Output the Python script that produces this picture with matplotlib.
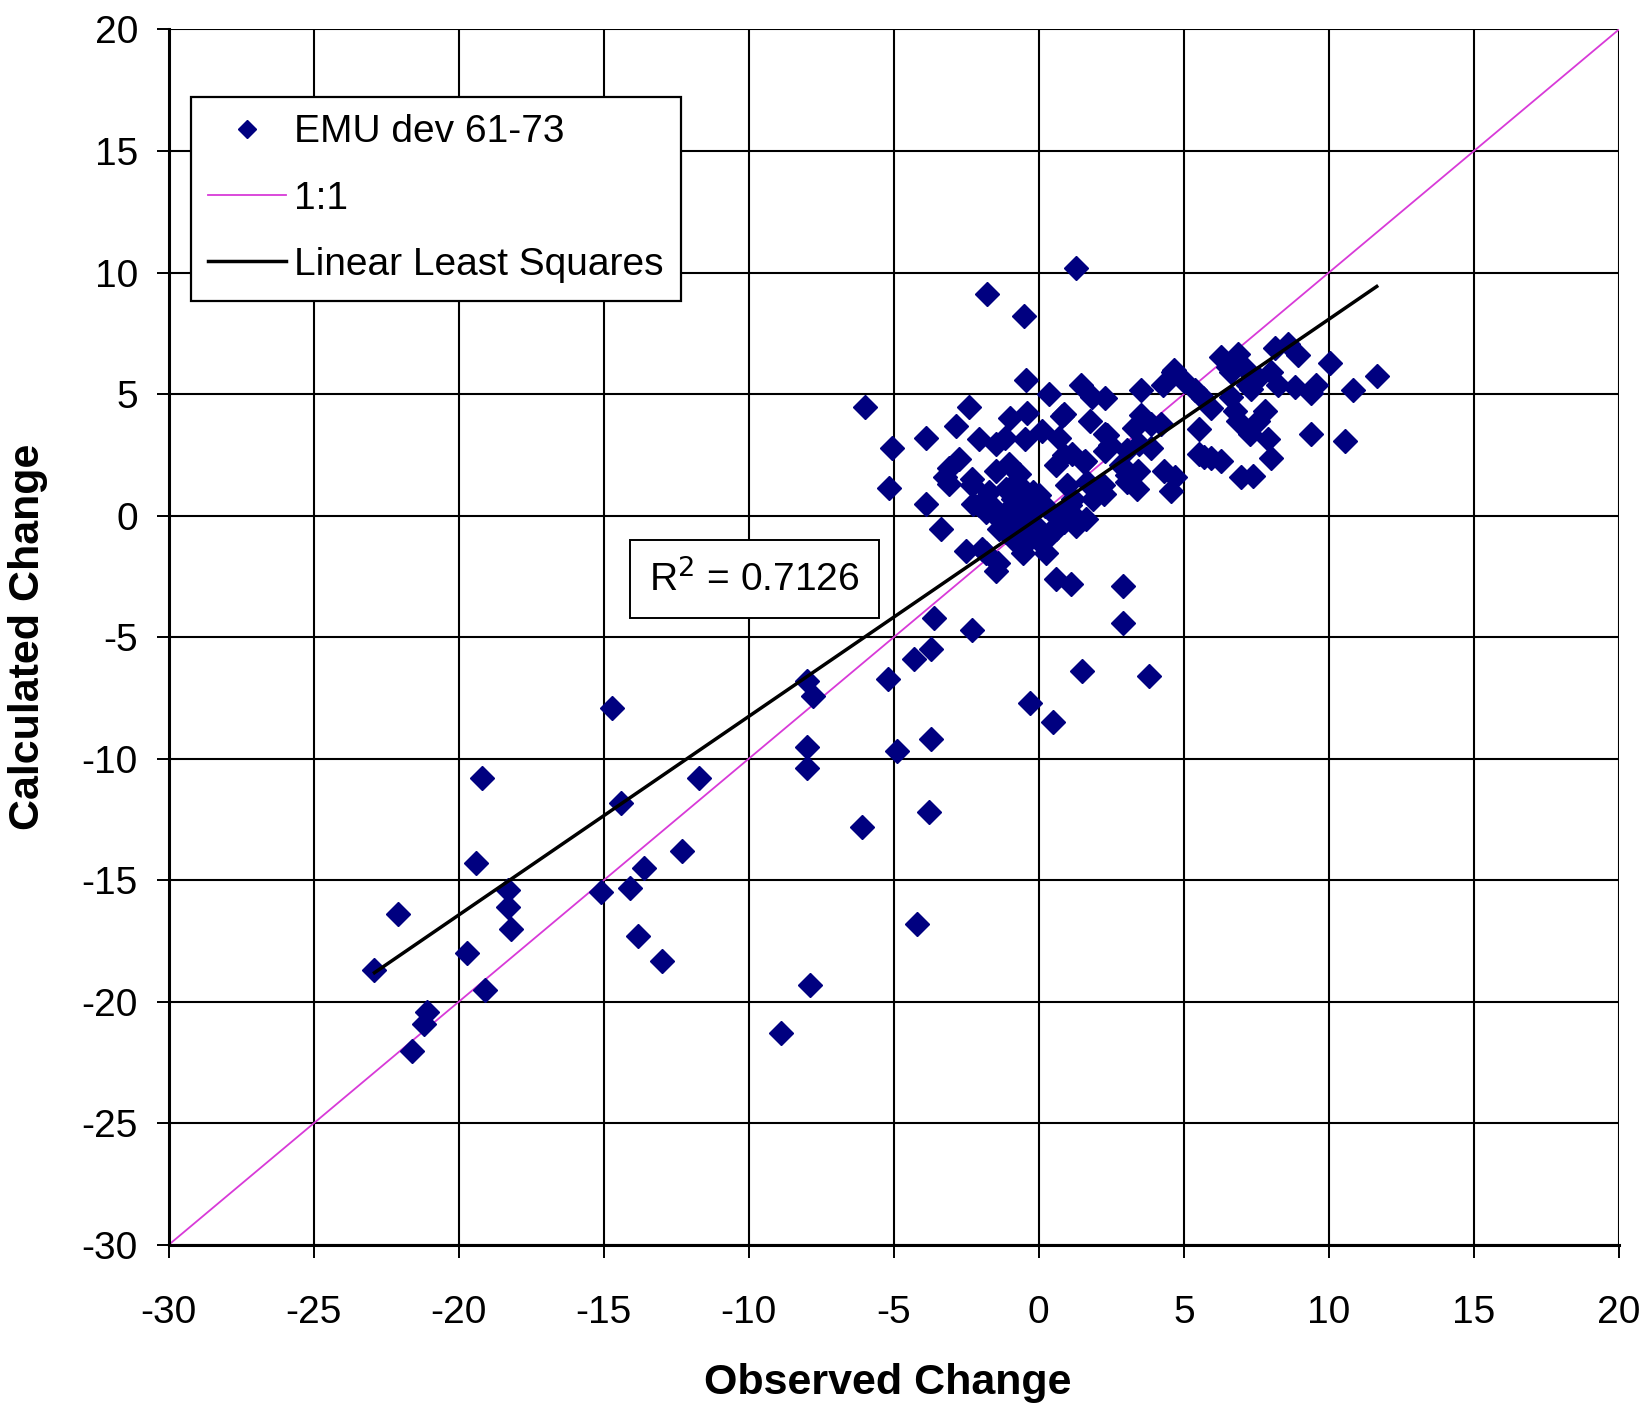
import numpy as np
import matplotlib
matplotlib.use("Agg")
import matplotlib.pyplot as plt

plt.rcParams['font.family'] = ['Liberation Sans', 'DejaVu Sans']
plt.rcParams['axes.unicode_minus'] = False

# observed vs calculated change, EMU deviation 61-73
observed = [
    # low / scattered points
    -22.9, -22.1, -21.6, -21.1, -21.2, -19.7, -19.1, -19.2, -19.4, -18.3,
    -18.3, -18.2, -15.1, -14.7, -14.4, -14.1, -13.8, -13.6, -13.0, -12.3,
    -11.7, -8.9, -8.0, -7.8, -8.0, -8.0, -7.9, -6.1, -6.0, -5.2,
    -4.9, -4.3, -4.2, -3.8, -3.7, -3.7, -3.6, -2.3, -0.3, 0.5,
    1.5, 2.9, 2.9, 3.8, 0.6, 1.1,
    # high outliers
    -1.8, -0.5, 1.3, -0.45,
    # core cluster
    -2.41, -5.06, -3.89, -2.87, -0.98, -0.4, 0.34, 0.8, 1.44, 1.84,
    2.3, 1.78, -2.07, -1.49, -1.15, -0.46, 0.11, 0.69, 1.15, 1.61,
    2.3, 2.3, -5.15, -3.1, -2.76, -3.22, -2.3, -1.49, -1.03, -0.69,
    0.6, -1.7, -1.13, -0.67, -0.21, -2.28, -1.82, -1.24, -0.78, -0.32,
    -1.36, -0.9, -0.44, 0.02, -2.51, -1.82, -0.55, 0.25, 0.48, 0.6,
    -1.41, -3.9, -3.38, -1.94, -1.48, -3.09, -2.29, -2.06, -1.13, -0.9,
    -0.67, -0.21, 0.02, 0.6, 0.95, 1.29, 1.64, 1.87, 2.22, 3.03,
    0.02, -0.44, -0.9, 1.18, 0.86, 2.36, 2.47, 3.05, 1.55, 2.82,
    3.05, 3.39, 0.86, 0.98, 1.67, 2.24, 1.09, 1.32, 0.86,
    -1.6, -1.0, -0.5, -0.1, 0.3, -1.3, -0.6, 0.2,
    # right cluster
    3.53, 4.27, 4.62, 5.02, 5.37, 5.66, 6.29, 6.87, 6.64, 7.1,
    7.21, 7.56, 8.13, 8.59, 8.94, 8.02, 8.25, 8.82, 9.57, 9.4,
    10.03, 10.84, 11.65, 3.53, 3.29, 3.87, 3.47, 3.87, 5.94, 6.75,
    6.87, 7.79, 7.56, 5.54, 7.27, 7.9, 9.4, 10.55, 5.54, 5.94,
    6.29, 8.02, 6.98, 7.38, 3.41, 4.33, 4.68, 4.65, 6.51, 6.63,
    7.33, 5.7, 4.55, 4.2,
]
calculated = [
    -18.7, -16.4, -22.0, -20.4, -20.9, -18.0, -19.5, -10.8, -14.3, -15.4,
    -16.1, -17.0, -15.5, -7.9, -11.8, -15.3, -17.3, -14.5, -18.3, -13.8,
    -10.8, -21.3, -6.8, -7.4, -9.5, -10.4, -19.3, -12.8, 4.45, -6.7,
    -9.7, -5.9, -16.8, -12.2, -9.2, -5.5, -4.2, -4.7, -7.7, -8.5,
    -6.4, -2.9, -4.4, -6.6, -2.6, -2.8,
    9.1, 8.2, 10.2, 5.6,
    4.46, 2.77, 3.18, 3.68, 4.02, 4.23, 5.0, 4.09, 5.38, 4.9,
    4.86, 3.89, 3.14, 2.93, 3.2, 3.14, 3.48, 3.2, 2.53, 2.26,
    3.34, 2.66, 1.15, 1.98, 2.32, 1.58, 1.51, 1.85, 2.12, 1.71,
    2.08, 0.97, 1.11, 0.69, 0.97, 0.49, 0.14, 0.0, -0.28, 0.0,
    -0.56, -0.97, -1.11, -0.83, -1.46, -1.53, -1.53, -1.53, -0.56, 0.0,
    -1.94, 0.49, -0.56, -1.39, -2.29, 1.32, 1.25, 0.42, -0.69, 0.69,
    -0.28, 0.14, -0.56, -0.56, 0.14, -0.42, -0.14, 0.69, 1.25, 1.39,
    0.83, 0.97, 1.25, 0.69, 4.17, 3.33, 2.92, 2.71, 2.22, 2.08,
    1.67, 1.11, 2.5, 1.25, 1.39, 0.9, 0.42, -0.14, -0.28,
    0.4, 0.3, -0.4, -0.9, -0.9, -0.2, 0.5, 0.4,
    5.18, 5.38, 5.92, 5.52, 5.18, 4.84, 6.54, 6.67, 5.92, 6.06,
    5.38, 5.65, 6.88, 7.08, 6.6, 5.92, 5.38, 5.31, 5.38, 5.04,
    6.26, 5.18, 5.76, 4.16, 3.61, 3.75, 2.93, 2.8, 4.43, 4.29,
    3.89, 4.29, 3.89, 3.55, 3.34, 3.14, 3.34, 3.07, 2.53, 2.39,
    2.26, 2.39, 1.58, 1.64, 1.85, 1.85, 1.58, 5.99, 6.12, 4.89,
    5.23, 2.42, 1.0, 3.75,
]

# trendline coefficients and fit statistic
fit_slope = 0.817
fit_intercept = -0.09
r_squared = 0.7126

x_ticks = [-30, -25, -20, -15, -10, -5, 0, 5, 10, 15, 20]
y_ticks = [-30, -25, -20, -15, -10, -5, 0, 5, 10, 15, 20]

fig = plt.figure(figsize=(16.52, 14.09), dpi=100)
ax = fig.add_axes([0.102, 0.1164, 0.878, 0.8627])

ax.set_xlim(-30, 20)
ax.set_ylim(-30, 20)
ax.set_xticks(x_ticks)
ax.set_yticks(y_ticks)
ax.grid(True, color='black', linewidth=1.5)
ax.set_axisbelow(True)
for side in ['top', 'right']:
    ax.spines[side].set_visible(False)
for side in ['left', 'bottom']:
    ax.spines[side].set_linewidth(2.2)
ax.tick_params(direction='out', length=9, width=1.4, labelsize=28, pad=13)
ax.tick_params(axis='x', pad=27)

# 1:1 reference line
one_to_one = np.array([-30, 20])
ax.plot(one_to_one, one_to_one, color='#d83ad8', linewidth=1.3, label='1:1', zorder=2)

# least squares fit over the observed range
fit_x = np.array([min(observed), max(observed)])
ax.plot(fit_x, fit_slope * fit_x + fit_intercept, color='black', linewidth=2.5,
        label='Linear Least Squares', zorder=4)

ax.plot(observed, calculated, linestyle='none', marker='D', markersize=12.5,
        color='#000080', label='EMU dev 61-73', zorder=3)

ax.text(-9.8, -2.6, f'R$^2$ = {r_squared}', fontsize=28, ha='center', va='center', zorder=5,
        bbox=dict(boxstyle='square,pad=0.5', facecolor='white', edgecolor='black', linewidth=1.4))

handles, labels = ax.get_legend_handles_labels()
order = [2, 0, 1]
leg = ax.legend([handles[i] for i in order], [labels[i] for i in order],
                loc='upper left', bbox_to_anchor=(0.0152, 0.9445), borderaxespad=0,
                fontsize=28, numpoints=1, handlelength=2.0, handletextpad=0.2,
                labelspacing=0.78, borderpad=0.45, fancybox=False, framealpha=1,
                edgecolor='black', markerscale=0.75)
leg.get_frame().set_linewidth(1.6)

ax.set_xlabel('Observed Change', fontsize=31, fontweight='bold')
ax.set_ylabel('Calculated Change', fontsize=31, fontweight='bold')
ax.xaxis.set_label_coords(0.4957, -0.097)
ax.yaxis.set_label_coords(-0.083, 0.5)

fig.savefig('out.png', dpi=100)
